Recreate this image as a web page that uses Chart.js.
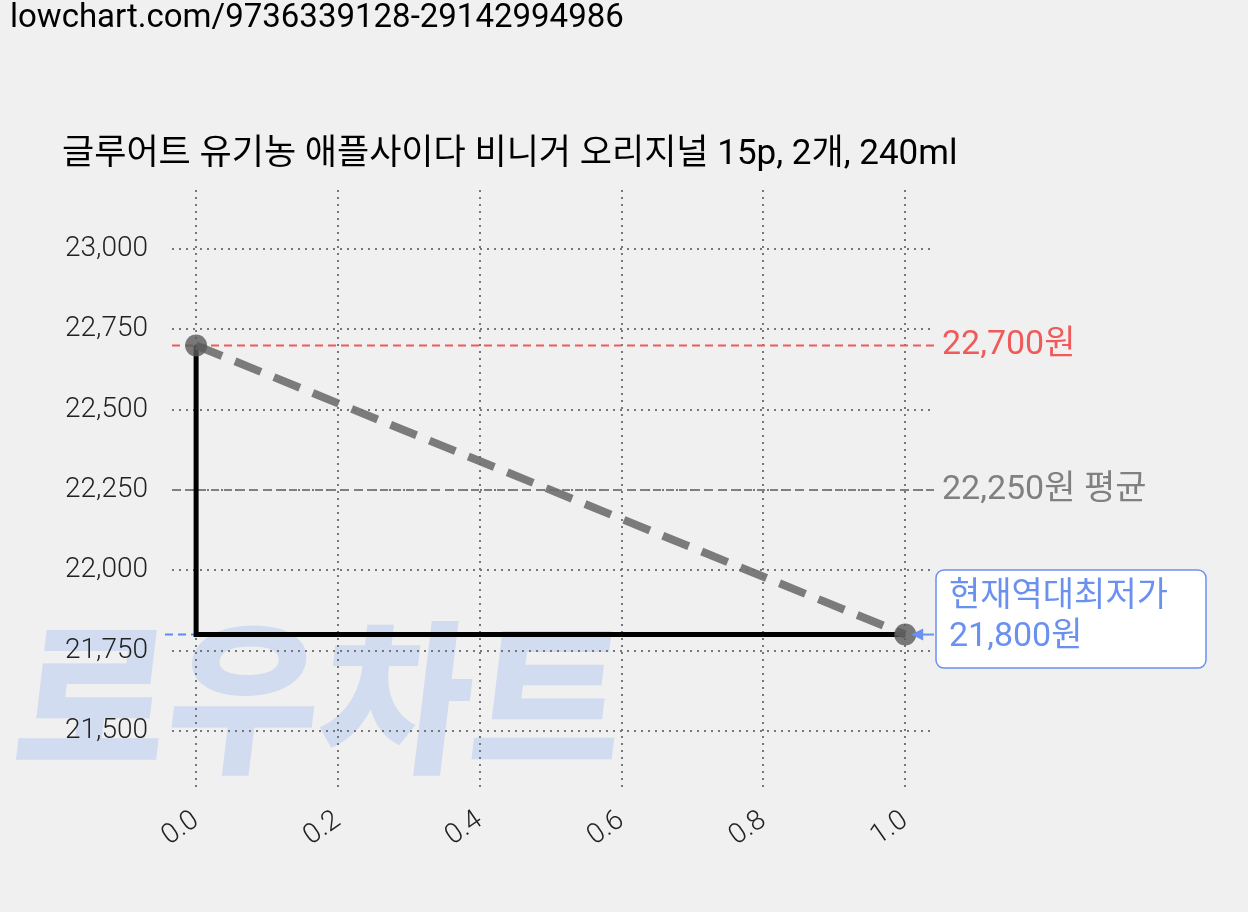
<!DOCTYPE html>
<html><head><meta charset="utf-8">
<script src="https://cdn.jsdelivr.net/npm/chart.js@4"></script>
<style>html,body{margin:0;background:#f0f0f0}#c{display:block}</style>
</head><body>
<div style="width:1248px;height:912px"><canvas id="c"></canvas></div>
<script>
const stepX=[0,0,1];
const stepY=[22700,21800,21800];
const trendX=[0,1];
const trendY=[22700,21800];
const xTicks=[0,0.2,0.4,0.6,0.8,1.0];
const yTicks=[21500,21750,22000,22250,22500,22750,23000];
const maxPrice=22700, avgPrice=22250, minPrice=21800;
const title='글루어트 유기농 애플사이다 비니거 오리지널 15p, 2개, 240ml';
const source='lowchart.com/9736339128-29142994986';
const F='Roboto, "Noto Sans CJK KR", sans-serif';
const KF='"Noto Sans CJK KR", Roboto, sans-serif';

const deco={id:'deco',
beforeDraw(c){const x=c.ctx;x.save();x.fillStyle='#f0f0f0';x.fillRect(0,0,c.width,c.height);
 x.font='900 165px '+KF;x.fillStyle='rgba(170,195,240,0.45)';x.textBaseline='alphabetic';
 x.save();x.translate(0,760);x.transform(1,0,-0.12,1,0,0);x.fillText('로우차트',10,0);x.restore();
 x.fillStyle='#000';x.font='33px '+F;x.fillText(source,10,27);
 x.font='35px '+F;x.fillText(title,62,164);x.restore();},
beforeDatasetsDraw(c){const x=c.ctx,s=c.scales,a=c.chartArea;x.save();x.lineWidth=2;x.setLineDash([8,5]);
 const h=(v,col,x0)=>{const y=s.y.getPixelForValue(v);x.strokeStyle=col;x.beginPath();x.moveTo(x0,y);x.lineTo(a.right,y);x.stroke();};
 h(maxPrice,'#f05a5a',a.left);h(avgPrice,'#808080',a.left);
 const yb=s.y.getPixelForValue(minPrice);x.strokeStyle='#5b8cf0';x.beginPath();x.moveTo(165,yb);x.lineTo(s.x.getPixelForValue(1),yb);x.stroke();
 x.restore();},
afterDatasetsDraw(c){const x=c.ctx,s=c.scales;x.save();x.font='34px '+F;x.textBaseline='middle';
 x.fillStyle='#f05a5a';x.fillText('22,700원',942,s.y.getPixelForValue(maxPrice));
 x.fillStyle='#808080';x.fillText('22,250원 평균',942,s.y.getPixelForValue(avgPrice));
 const yb=s.y.getPixelForValue(minPrice);
 x.fillStyle='#fff';x.strokeStyle='#6a90f0';x.lineWidth=1.5;x.beginPath();x.roundRect(936,570,270,98,8);x.fill();x.stroke();
 x.fillStyle='#6a90f0';x.fillText('현재역대최저가',949,597);x.fillText('21,800원',949,637);
 const px=s.x.getPixelForValue(1);x.strokeStyle='#6a90f0';x.lineWidth=2;x.beginPath();x.moveTo(934,yb);x.lineTo(px+8,yb);x.stroke();
 x.beginPath();x.moveTo(px+6,yb);x.lineTo(px+18,yb-6);x.lineTo(px+18,yb+6);x.closePath();x.fillStyle='#6a90f0';x.fill();
 x.restore();}};

new Chart(document.getElementById('c'),{
 type:'scatter',
 data:{datasets:[
  {data:stepX.map((v,i)=>({x:v,y:stepY[i]})),showLine:true,borderColor:'#000',borderWidth:5,pointRadius:0,order:2},
  {data:trendX.map((v,i)=>({x:v,y:trendY[i]})),showLine:true,borderColor:'rgba(110,110,110,0.9)',borderWidth:8,borderDash:[28,14],
   pointRadius:11,pointBackgroundColor:'rgba(90,90,90,0.8)',pointBorderWidth:0,order:1}]},
 options:{responsive:true,maintainAspectRatio:false,animation:false,
  layout:{padding:{left:0,top:190,right:313,bottom:0}},
  plugins:{legend:{display:false},tooltip:{enabled:false}},
  scales:{
   x:{type:'linear',min:-0.034,max:1.042,afterBuildTicks(s){s.ticks=xTicks.map(v=>({value:v}));},afterFit(s){s.height=122;},
    border:{display:false,dash:[2,5]},grid:{color:'#777',lineWidth:2,drawTicks:false},
    ticks:{minRotation:35,maxRotation:35,padding:14,color:'#222',font:{size:28,family:F,weight:300},callback:v=>Number(v).toFixed(1)}},
   y:{min:21316,max:23184,afterBuildTicks(s){s.ticks=yTicks.map(v=>({value:v}));},afterFit(s){s.width=172;},
    border:{display:false,dash:[2,5]},grid:{color:'#777',lineWidth:2,drawTicks:false},
    ticks:{padding:24,color:'#222',font:{size:28,family:F,weight:300},callback:v=>Number(v).toLocaleString('en-US')}}}},
 plugins:[deco]});
</script></body></html>
